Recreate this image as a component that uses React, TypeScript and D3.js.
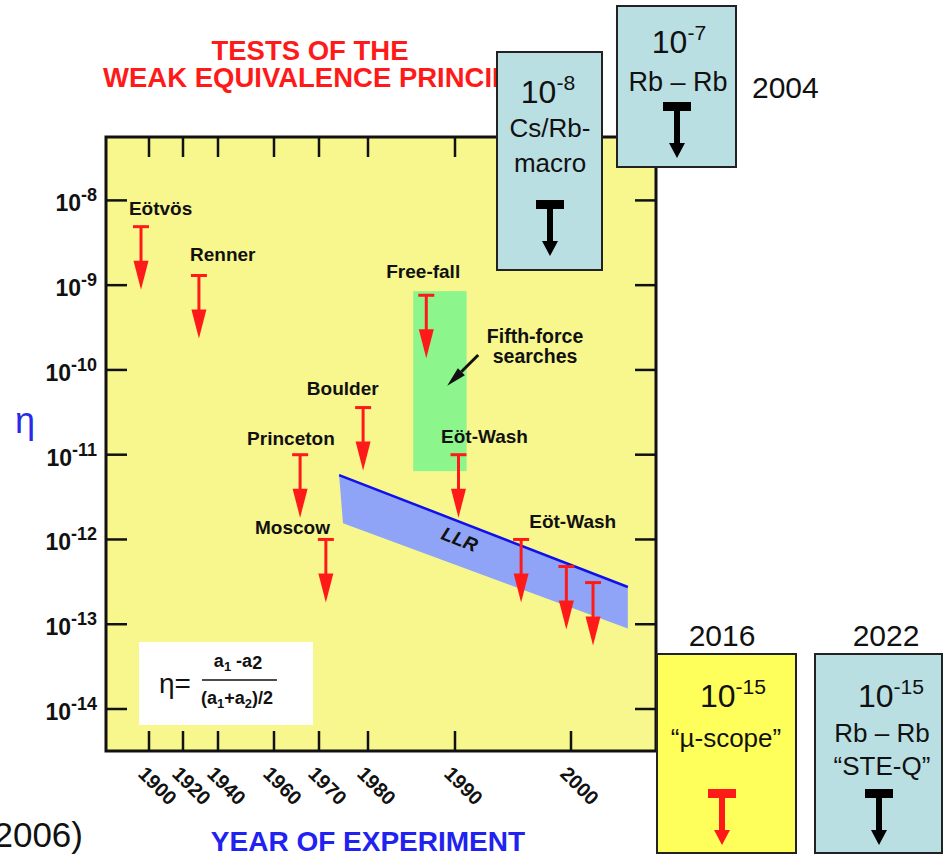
import React from 'react';
import * as d3 from 'd3';

// ---------- data ----------
const xTickYears = [1900, 1920, 1940, 1960, 1970, 1980, 1990, 2000];
const yTickExponents = [-8, -9, -10, -11, -12, -13, -14];

// upper limits (red arrows): year and eta
const limitYears = [1895.3, 1929.1, 1965.8, 1971.4, 1979.0, 1986.7, 1990.3, 1995.7, 1999.6, 2001.9];
const limitEta = [4.9e-9, 1.3e-9, 1.0e-11, 1.0e-12, 3.6e-11, 7.6e-10, 1.0e-11, 1.0e-12, 4.8e-13, 3.1e-13];

// experiment labels and where they sit
const labelNames = ['Eötvös', 'Renner', 'Princeton', 'Moscow', 'Boulder', 'Free-fall', 'Eöt-Wash', 'Eöt-Wash'];
const labelYears = [1888.2, 1924.0, 1950.4, 1953.2, 1967.3, 1982.1, 1988.4, 1996.4];
const labelEta = [6.7e-9, 1.93e-9, 1.3e-11, 1.16e-12, 5.1e-11, 1.22e-9, 1.38e-11, 1.36e-12];

// fifth-force searches region
const fifthYears = [1985.2, 1991.0];
const fifthEta = [8.5e-10, 6.4e-12];
const fifthArrowYears = [1992.0, 1989.1];
const fifthArrowEta = [1.5e-10, 6.5e-11];
const fifthLabel = ['Fifth-force', 'searches'];
const fifthLabelYear = 1996.9;
const fifthLabelEta = [2.1e-10, 1.2e-10];

// lunar laser ranging band
const llrYears = [1974.1, 1974.9, 2004.9];
const llrTopEta = [5.75e-12, 2.75e-13];
const llrBottomEta = [1.55e-12, 8.9e-14];
const llrLabelYear = 1990.2;
const llrLabelEta = 8.5e-13;

// future / proposed tests (boxes)
const boxPower = ['-8', '-7', '-15', '-15'];
const boxLines = [['Cs/Rb-', 'macro'], ['Rb – Rb'], ['“µ-scope”'], ['Rb – Rb', '“STE-Q”']];
const boxYears = ['', '2004', '2016', '2022'];

// ---------- layout ----------
const W = 945;
const H = 856;
const plot = { left: 106, right: 656, top: 137, bottom: 751 };
const tickOffsets = [43, 77, 112, 168, 213, 262, 349, 465];

const RED = '#ff1a1a';
const SANS = '"Liberation Sans", Arial, Helvetica, sans-serif';

const x = d3.scaleLinear().domain(xTickYears).range(tickOffsets.map(o => plot.left + o));
const y = d3.scaleLog().domain([1e-14, 1e-8]).range([709, 200.4]);

function RedLimit({ cx, cy }: { cx: number; cy: number }) {
  return (
    <g>
      <line x1={cx - 8} x2={cx + 8} y1={cy} y2={cy} stroke={RED} strokeWidth={3} />
      <line x1={cx} x2={cx} y1={cy} y2={cy + 36} stroke={RED} strokeWidth={3} />
      <path d={`M${cx - 7.5},${cy + 34}L${cx + 7.5},${cy + 34}L${cx},${cy + 63}Z`} fill={RED} />
    </g>
  );
}

function TArrow({ cx, top, color }: { cx: number; top: number; color: string }) {
  return (
    <g fill={color}>
      <rect x={cx - 14} y={top} width={28} height={9} />
      <rect x={cx - 3} y={top} width={6} height={42} />
      <path d={`M${cx - 8},${top + 41}L${cx + 8},${top + 41}L${cx},${top + 56}Z`} />
    </g>
  );
}

function PowerText({ cx, y0, power, size = 32 }: { cx: number; y0: number; power: string; size?: number }) {
  return (
    <text x={cx} y={y0} textAnchor="middle" fontFamily={SANS} fontSize={size} fill="#111">
      10<tspan fontSize={size * 0.66} dy={-size * 0.42}>{power}</tspan>
    </text>
  );
}

export default function App() {
  const llrTop = [
    [x(llrYears[0]), y(llrTopEta[0])],
    [x(llrYears[2]), y(llrTopEta[1])],
  ];
  const llrPoly = [
    [x(llrYears[0]), y(llrTopEta[0])],
    [x(llrYears[2]), y(llrTopEta[1])],
    [x(llrYears[2]), y(llrBottomEta[1])],
    [x(llrYears[1]), y(llrBottomEta[0])],
  ];
  const llrAngle = (Math.atan2(llrTop[1][1] - llrTop[0][1], llrTop[1][0] - llrTop[0][0]) * 180) / Math.PI;

  const fa0 = [x(fifthArrowYears[0]), y(fifthArrowEta[0])];
  const fa1 = [x(fifthArrowYears[1]), y(fifthArrowEta[1])];
  const fAng = Math.atan2(fa1[1] - fa0[1], fa1[0] - fa0[0]);
  const headLen = 20;
  const headW = 5;
  const hb = [fa1[0] - headLen * Math.cos(fAng), fa1[1] - headLen * Math.sin(fAng)];
  const perp = [-Math.sin(fAng), Math.cos(fAng)];

  return (
    <svg width={W} height={H} style={{ position: 'absolute', left: 0, top: 0, background: '#fff' }}>
      <defs>
        <clipPath id="titleClip">
          <rect x={0} y={0} width={497} height={120} />
        </clipPath>
      </defs>

      {/* plot background */}
      <rect x={plot.left} y={plot.top} width={plot.right - plot.left} height={plot.bottom - plot.top} fill="#f7f78e" />

      {/* fifth force region */}
      <rect
        x={x(fifthYears[0])}
        y={y(fifthEta[0])}
        width={x(fifthYears[1]) - x(fifthYears[0])}
        height={y(fifthEta[1]) - y(fifthEta[0])}
        fill="#8cf58c"
      />

      {/* LLR band */}
      <path d={d3.line()(llrPoly as [number, number][]) + 'Z'} fill="#8fa4f6" />
      <line x1={llrTop[0][0]} y1={llrTop[0][1]} x2={llrTop[1][0]} y2={llrTop[1][1]} stroke="#1010ee" strokeWidth={2.5} />
      <text
        transform={`translate(${x(llrLabelYear)},${y(llrLabelEta)}) rotate(${llrAngle})`}
        textAnchor="middle"
        fontFamily={SANS}
        fontWeight="bold"
        fontStyle="italic"
        fontSize={19}
        fill="#111"
      >
        LLR
      </text>

      {/* axes ticks */}
      {xTickYears.map(yr => (
        <g key={yr}>
          <line x1={x(yr)} x2={x(yr)} y1={plot.bottom} y2={plot.bottom - 20} stroke="#111" strokeWidth={2.5} />
          <line x1={x(yr)} x2={x(yr)} y1={plot.top} y2={plot.top + 20} stroke="#111" strokeWidth={2.5} />
          <text
            transform={`translate(${x(yr) - 12},775) rotate(45)`}
            fontFamily={SANS}
            fontWeight="bold"
            fontSize={20}
            fill="#111"
          >
            {yr}
          </text>
        </g>
      ))}
      {yTickExponents.map(e => (
        <g key={e}>
          <line x1={plot.left} x2={plot.left + 21} y1={y(10 ** e)} y2={y(10 ** e)} stroke="#111" strokeWidth={2.5} />
          <line x1={plot.right} x2={plot.right - 21} y1={y(10 ** e)} y2={y(10 ** e)} stroke="#111" strokeWidth={2.5} />
          <text x={97} y={y(10 ** e) + 11} textAnchor="end" fontFamily={SANS} fontWeight="bold" fontSize={23} fill="#111">
            10<tspan fontSize={18} dy={-10}>{`-${-e}`}</tspan>
          </text>
        </g>
      ))}

      {/* upper limits */}
      {limitYears.map((yr, i) => (
        <RedLimit key={i} cx={x(yr)} cy={y(limitEta[i])} />
      ))}

      {/* experiment labels */}
      {labelNames.map((name, i) => (
        <text key={i} x={x(labelYears[i])} y={y(labelEta[i])} fontFamily={SANS} fontWeight="bold" fontSize={19} fill="#111">
          {name}
        </text>
      ))}

      {/* fifth-force label and arrow */}
      {fifthLabel.map((t, i) => (
        <text key={t} x={x(fifthLabelYear)} y={y(fifthLabelEta[i])} textAnchor="middle" fontFamily={SANS} fontWeight="bold" fontSize={19.5} fill="#111">
          {t}
        </text>
      ))}
      <line x1={fa0[0]} y1={fa0[1]} x2={hb[0]} y2={hb[1]} stroke="#111" strokeWidth={3} />
      <path
        d={`M${fa1[0]},${fa1[1]}L${hb[0] + perp[0] * headW},${hb[1] + perp[1] * headW}L${hb[0] - perp[0] * headW},${hb[1] - perp[1] * headW}Z`}
        fill="#111"
      />

      {/* formula box */}
      <rect x={139} y={642} width={174} height={83} fill="#fff" />
      <text x={159} y={693} fontFamily={SANS} fontSize={28} fill="#111">
        η=
      </text>
      <text x={238} y={667} textAnchor="middle" fontFamily={SANS} fontWeight="bold" fontSize={18} fill="#111">
        a<tspan fontSize={13} dy={4}>1</tspan>
        <tspan dy={-4}> -a</tspan>
        <tspan fontSize={18} dy={2}>2</tspan>
      </text>
      <line x1={202} x2={277} y1={680} y2={680} stroke="#111" strokeWidth={1.5} />
      <text x={237} y={704} textAnchor="middle" fontFamily={SANS} fontWeight="bold" fontSize={18} fill="#111">
        (a<tspan fontSize={13} dy={4}>1</tspan>
        <tspan dy={-4}>+a</tspan>
        <tspan fontSize={13} dy={4}>2</tspan>
        <tspan dy={-4}>)/2</tspan>
      </text>

      {/* plot frame */}
      <rect
        x={plot.left}
        y={plot.top}
        width={plot.right - plot.left}
        height={plot.bottom - plot.top}
        fill="none"
        stroke="#111"
        strokeWidth={3}
      />

      {/* title */}
      <text x={310} y={60} textAnchor="middle" fontFamily={SANS} fontWeight="bold" fontSize={27.5} fill={RED}>
        TESTS OF THE
      </text>
      <text x={103} y={87} fontFamily={SANS} fontWeight="bold" fontSize={27.5} fill={RED} clipPath="url(#titleClip)">
        WEAK EQUIVALENCE PRINCIPLE
      </text>

      {/* axis titles */}
      <text x={15} y={433} fontFamily={SANS} fontSize={36} fill="#2a2ae8">
        η
      </text>
      <text x={368} y={851} textAnchor="middle" fontFamily={SANS} fontWeight="bold" fontSize={28} fill="#2222f0">
        YEAR OF EXPERIMENT
      </text>
      <text x={83} y={847} textAnchor="end" fontFamily={SANS} fontSize={35} fill="#111">
        2006)
      </text>

      {/* box 1 : Cs/Rb macro */}
      <rect x={497} y={52} width={105} height={218} fill="#b9dfe3" stroke="#222" strokeWidth={2} />
      <PowerText cx={548} y0={103} power={boxPower[0]} />
      {boxLines[0].map((t, i) => (
        <text key={t} x={550} y={137 + i * 35} textAnchor="middle" fontFamily={SANS} fontSize={26} fill="#111">
          {t}
        </text>
      ))}
      <TArrow cx={550} top={200} color="#000" />

      {/* box 2 : Rb-Rb 2004 */}
      <rect x={617} y={6} width={119} height={161} fill="#b9dfe3" stroke="#222" strokeWidth={2} />
      <PowerText cx={679} y0={53} power={boxPower[1]} />
      <text x={678} y={91} textAnchor="middle" fontFamily={SANS} fontSize={27} fill="#111">
        {boxLines[1][0]}
      </text>
      <TArrow cx={677} top={102} color="#000" />
      <text x={752} y={98} fontFamily={SANS} fontSize={30} fill="#111">
        {boxYears[1]}
      </text>

      {/* box 3 : microscope 2016 */}
      <text x={722} y={646} textAnchor="middle" fontFamily={SANS} fontSize={30} fill="#111">
        {boxYears[2]}
      </text>
      <rect x={657} y={654} width={139} height={199} fill="#ffff5c" stroke="#222" strokeWidth={2} />
      <PowerText cx={733} y0={707} power={boxPower[2]} />
      <text x={726} y={747} textAnchor="middle" fontFamily={SANS} fontSize={26} fill="#111">
        {boxLines[2][0]}
      </text>
      <TArrow cx={722} top={789} color={RED} />

      {/* box 4 : STE-Q 2022 */}
      <text x={886} y={646} textAnchor="middle" fontFamily={SANS} fontSize={30} fill="#111">
        {boxYears[3]}
      </text>
      <rect x={815} y={654} width={127} height={199} fill="#b9dfe3" stroke="#222" strokeWidth={2} />
      <PowerText cx={891} y0={707} power={boxPower[3]} />
      {boxLines[3].map((t, i) => (
        <text key={t} x={882} y={742 + i * 33} textAnchor="middle" fontFamily={SANS} fontSize={26} fill="#111">
          {t}
        </text>
      ))}
      <TArrow cx={879} top={789} color="#000" />
    </svg>
  );
}
